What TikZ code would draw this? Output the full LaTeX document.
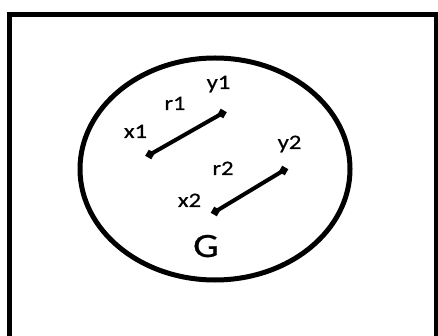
\documentclass[tikz,border=0pt]{standalone}
\usepackage{fontspec}
\setmainfont{Carlito}[FakeStretch=1.2,FakeBold=0.6]
\begin{document}
\begin{tikzpicture}[x=1pt,y=-1pt,
  lbl/.style={anchor=base,inner sep=0pt,font=\fontsize{20.5}{24}\selectfont},
  big/.style={anchor=base,inner sep=0pt,font=\fontsize{34}{40}\selectfont},
  endpt/.style={fill=black,inner sep=0pt,minimum size=7pt,rotate=-30},
  rel/.style={line width=4pt},
  frame/.style={line width=5pt},
  set/.style={line width=5pt}]
\useasboundingbox (0,0) rectangle (438,336);
\draw[frame] (9.5,15) rectangle (436.5,338);
\draw[set] (215,169) ellipse [x radius=135, y radius=111];
\node[endpt] (x1p) at (150,154.5) {};
\node[endpt] (y1p) at (222,113.5) {};
\node[endpt] (x2p) at (215.5,211.5) {};
\node[endpt] (y2p) at (283.5,170.5) {};
\draw[rel] (x1p.center) -- (y1p.center);
\draw[rel] (x2p.center) -- (y2p.center);
\node[lbl] (x1) at (135.5,138) {x1};
\node[lbl] (r1) at (175,110) {r1};
\node[lbl] (y1) at (218.5,89) {y1};
\node[lbl] (y2) at (289.5,149) {y2};
\node[lbl] (r2) at (223,175) {r2};
\node[lbl] (x2) at (189.5,207) {x2};
\node[big] (G) at (206,257) {G};
\end{tikzpicture}
\end{document}
